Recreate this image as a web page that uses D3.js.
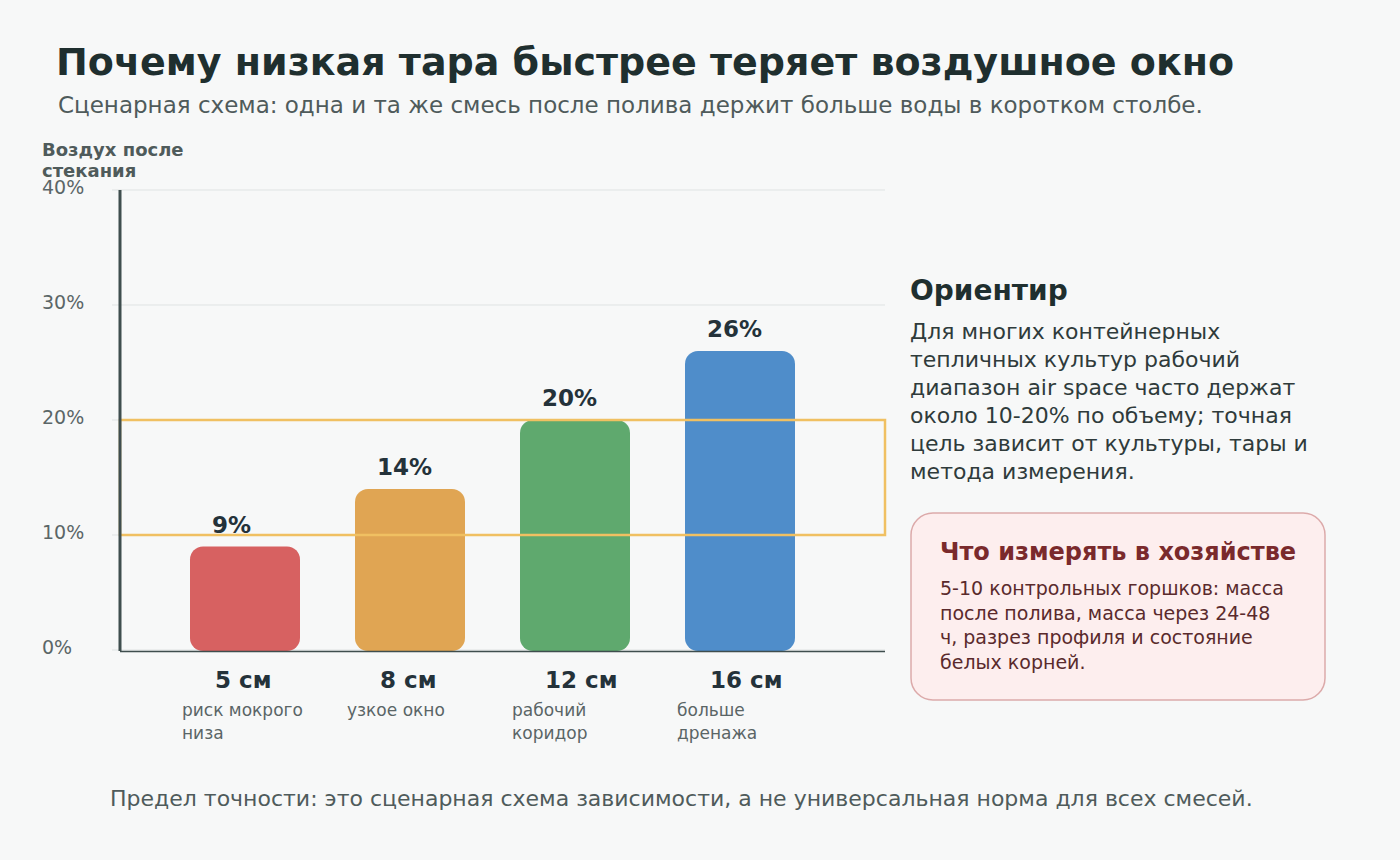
<!DOCTYPE html>
<html>
<head>
<meta charset="utf-8">
<script src="https://cdn.jsdelivr.net/npm/d3@7"></script>
<style>
  html, body { margin: 0; padding: 0; background: #f7f8f8; }
  svg { display: block; font-family: "DejaVu Sans", sans-serif; }
</style>
</head>
<body>
<div id="chart"></div>
<script>
// данные
const heights = ["5 см", "8 см", "12 см", "16 см"];
const airValues = [9, 14, 20, 26];
const subLabels = [["риск мокрого", "низа"], ["узкое окно"], ["рабочий", "коридор"], ["больше", "дренажа"]];
const barColors = ["#d76161", "#e0a553", "#5fa96e", "#4f8dca"];
const yTicks = [0, 10, 20, 30, 40];
const targetBand = [10, 20];

const titleText = "Почему низкая тара быстрее теряет воздушное окно";
const subtitleText = "Сценарная схема: одна и та же смесь после полива держит больше воды в коротком столбе.";
const yLabelLines = ["Воздух после", "стекания"];
const noteTitle = "Ориентир";
const noteLines = [
    "Для многих контейнерных",
    "тепличных культур рабочий",
    "диапазон air space часто держат",
    "около 10-20% по объему; точная",
    "цель зависит от культуры, тары и",
    "метода измерения."
];
const boxTitle = "Что измерять в хозяйстве";
const boxLines = [
    "5-10 контрольных горшков: масса",
    "после полива, масса через 24-48",
    "ч, разрез профиля и состояние",
    "белых корней."
];
const footerText = "Предел точности: это сценарная схема зависимости, а не универсальная норма для всех смесей.";

const width = 1400, height = 860;
const plot = {left: 120, right: 885, top: 190, bottom: 650};

const svg = d3.select("#chart").append("svg")
    .attr("width", width)
    .attr("height", height);

svg.append("rect").attr("width", width).attr("height", height).attr("fill", "#f7f8f8");

// шкалы
const x = d3.scaleBand()
    .domain(heights)
    .range([162.5, 822.5])
    .paddingInner(1 / 3)
    .paddingOuter(1 / 6);

const y = d3.scaleLinear()
    .domain([0, 40])
    .range([plot.bottom, plot.top]);

// заголовки
svg.append("text")
    .attr("x", 56).attr("y", 75)
    .attr("font-size", 38).attr("font-weight", "bold")
    .attr("fill", "#1f2f2f")
    .text(titleText);

svg.append("text")
    .attr("x", 58).attr("y", 113)
    .attr("font-size", 23)
    .attr("fill", "#4f5b5b")
    .text(subtitleText);

// сетка
svg.append("g")
    .selectAll("line")
    .data(yTicks)
    .join("line")
    .attr("x1", plot.left - 8)
    .attr("x2", plot.right)
    .attr("y1", d => y(d))
    .attr("y2", d => y(d))
    .attr("stroke", "#dfe3e3")
    .attr("stroke-width", 1);

svg.append("g")
    .selectAll("text")
    .data(yTicks)
    .join("text")
    .attr("x", 42)
    .attr("y", d => y(d) + 3.5)
    .attr("font-size", 19)
    .attr("fill", "#5b6667")
    .text(d => d + "%");

svg.append("text")
    .attr("font-size", 18).attr("font-weight", "bold")
    .attr("fill", "#4f5b5b")
    .selectAll("tspan")
    .data(yLabelLines)
    .join("tspan")
    .attr("x", 42)
    .attr("y", (d, i) => 156 + i * 20.5)
    .text(d => d);

// столбцы
svg.append("g")
    .selectAll("rect")
    .data(airValues)
    .join("rect")
    .attr("x", (d, i) => x(heights[i]))
    .attr("y", d => y(d))
    .attr("width", x.bandwidth())
    .attr("height", d => y(0) - y(d) + 1)
    .attr("rx", 13)
    .attr("fill", (d, i) => barColors[i]);

// целевой коридор
svg.append("rect")
    .attr("x", plot.left)
    .attr("y", y(targetBand[1]))
    .attr("width", plot.right - plot.left)
    .attr("height", y(targetBand[0]) - y(targetBand[1]))
    .attr("fill", "none")
    .attr("stroke", "#f0c062")
    .attr("stroke-width", 2.5);

// оси
svg.append("line")
    .attr("x1", plot.left).attr("x2", plot.left)
    .attr("y1", plot.top).attr("y2", plot.bottom + 1)
    .attr("stroke", "#3f4e4e").attr("stroke-width", 3);

svg.append("line")
    .attr("x1", plot.left).attr("x2", plot.right)
    .attr("y1", plot.bottom + 1.5).attr("y2", plot.bottom + 1.5)
    .attr("stroke", "#3f4e4e").attr("stroke-width", 1.5);

// подписи значений
svg.append("g")
    .selectAll("text")
    .data(airValues)
    .join("text")
    .attr("x", (d, i) => x(heights[i]) + 22)
    .attr("y", d => y(d) - 14)
    .attr("font-size", 23).attr("font-weight", "bold")
    .attr("fill", "#24323a")
    .text(d => d + "%");

// подписи категорий
svg.append("g")
    .selectAll("text")
    .data(heights)
    .join("text")
    .attr("x", d => x(d) + 25)
    .attr("y", 688)
    .attr("font-size", 23).attr("font-weight", "bold")
    .attr("fill", "#24323a")
    .text(d => d);

const subG = svg.append("g");
heights.forEach((h, i) => {
    subG.append("text")
        .attr("font-size", 17)
        .attr("fill", "#5a6566")
        .selectAll("tspan")
        .data(subLabels[i])
        .join("tspan")
        .attr("x", x(h) - 8)
        .attr("y", (d, j) => 716 + j * 22.5)
        .text(d => d);
});

// правая панель
svg.append("text")
    .attr("x", 910).attr("y", 300)
    .attr("font-size", 28).attr("font-weight", "bold")
    .attr("fill", "#1f2f2f")
    .text(noteTitle);

svg.append("text")
    .attr("font-size", 22)
    .attr("fill", "#2f3b3b")
    .selectAll("tspan")
    .data(noteLines)
    .join("tspan")
    .attr("x", 910)
    .attr("y", (d, i) => 339 + i * 28)
    .text(d => d);

svg.append("rect")
    .attr("x", 911).attr("y", 513)
    .attr("width", 414).attr("height", 187)
    .attr("rx", 22)
    .attr("fill", "#fdeeee")
    .attr("stroke", "#dcaaaa")
    .attr("stroke-width", 1.5);

svg.append("text")
    .attr("x", 940).attr("y", 560)
    .attr("font-size", 24).attr("font-weight", "bold")
    .attr("fill", "#7a2a2c")
    .text(boxTitle);

svg.append("text")
    .attr("font-size", 19)
    .attr("fill", "#5a2a2c")
    .selectAll("tspan")
    .data(boxLines)
    .join("tspan")
    .attr("x", 940)
    .attr("y", (d, i) => 595 + i * 24.5)
    .text(d => d);

// подвал
svg.append("text")
    .attr("x", 110).attr("y", 806)
    .attr("font-size", 22)
    .attr("fill", "#4f5b5b")
    .text(footerText);
</script>
</body>
</html>
